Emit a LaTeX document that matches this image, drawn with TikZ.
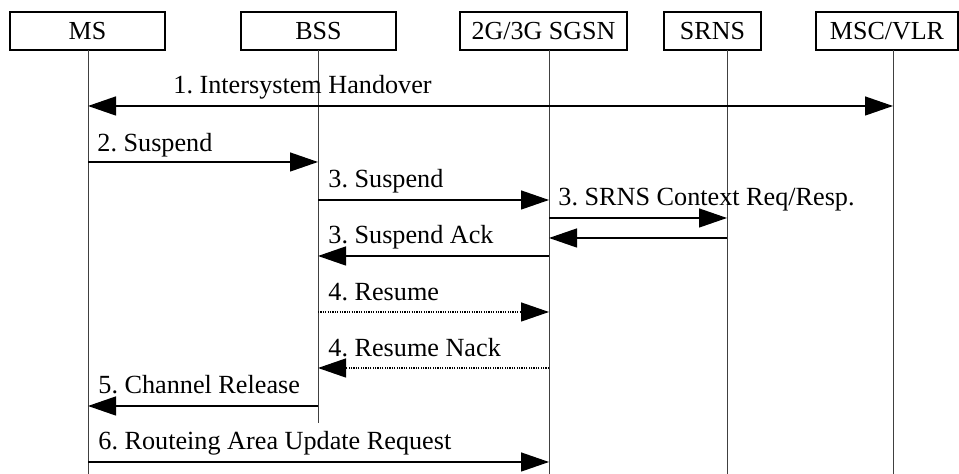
\documentclass[tikz,border=0pt]{standalone}
\usepackage{fontspec}
\setmainfont{Liberation Serif}
\usetikzlibrary{arrows.meta}
\frenchspacing
\begin{document}
\begin{tikzpicture}[x=0.5pt,y=-0.5pt,
  ent/.style={draw, line width=0.6pt, minimum height=19pt, inner sep=0pt, font=\fontsize{13}{15}\selectfont},
  life/.style={line width=0.5pt, draw=black!75},
  msg/.style={line width=0.65pt, -{Triangle[length=14pt,width=9.5pt]}},
  dmsg/.style={msg, dash pattern=on 0.6pt off 0.6pt},
  lbl/.style={anchor=base west, inner sep=0pt, font=\fontsize{13.1}{15}\selectfont}]
\useasboundingbox (0,0) rectangle (959,474);
% entities
\node[ent, minimum width=77.5pt] (msbox) at (87.5,31) {MS};
\node[ent, minimum width=77.5pt] (bssbox) at (318.5,31) {BSS};
\node[ent, minimum width=83.5pt] (sgsnbox) at (543.5,31) {2G/3G SGSN};
\node[ent, minimum width=48.5pt] (srnsbox) at (712.5,31) {SRNS};
\node[ent, minimum width=71pt] (mscbox) at (887,31) {MSC/VLR};
% lifelines
\coordinate (ms) at (88,50);
\coordinate (bss) at (318,50);
\coordinate (sgsn) at (549,50);
\coordinate (srns) at (727,50);
\coordinate (msc) at (893,50);
\coordinate (msE) at (88,474);
\coordinate (bssE) at (318,423);
\coordinate (sgsnE) at (549,474);
\coordinate (srnsE) at (727,474);
\coordinate (mscE) at (893,474);
\draw[life] (ms) -- (msE);
\draw[life] (bss) -- (bssE);
\draw[life] (sgsn) -- (sgsnE);
\draw[life] (srns) -- (srnsE);
\draw[life] (msc) -- (mscE);
% messages
\draw[msg, {Triangle[length=14pt,width=9.5pt]}-{Triangle[length=14pt,width=9.5pt]}] (ms |- 0,106) -- (msc |- 0,106);
\node[lbl] (l1) at (173,94) {1. Intersystem Handover};
\draw[msg] (ms |- 0,162) -- (bss |- 0,162);
\node[lbl] (l2) at (97,152) {2. Suspend};
\draw[msg] (bss |- 0,200) -- (sgsn |- 0,200);
\node[lbl] (l3) at (328,188) {3. Suspend};
\draw[msg] (sgsn |- 0,218) -- (srns |- 0,218);
\draw[msg] (srns |- 0,238) -- (sgsn |- 0,238);
\node[lbl] (l3b) at (558,206) {3. SRNS Context Req/Resp.};
\draw[msg] (sgsn |- 0,256) -- (bss |- 0,256);
\node[lbl] (l3c) at (328,244) {3. Suspend Ack};
\draw[dmsg] (bss |- 0,312) -- (sgsn |- 0,312);
\node[lbl] (l4) at (328,301) {4. Resume};
\draw[dmsg] (sgsn |- 0,368) -- (bss |- 0,368);
\node[lbl] (l4b) at (328,357) {4. Resume Nack};
\draw[msg] (bss |- 0,406) -- (ms |- 0,406);
\node[lbl] (l5) at (98,394) {5. Channel Release};
\draw[msg] (ms |- 0,462) -- (sgsn |- 0,462);
\node[lbl] (l6) at (98,450) {6. Routeing Area Update Request};
\end{tikzpicture}
\end{document}
